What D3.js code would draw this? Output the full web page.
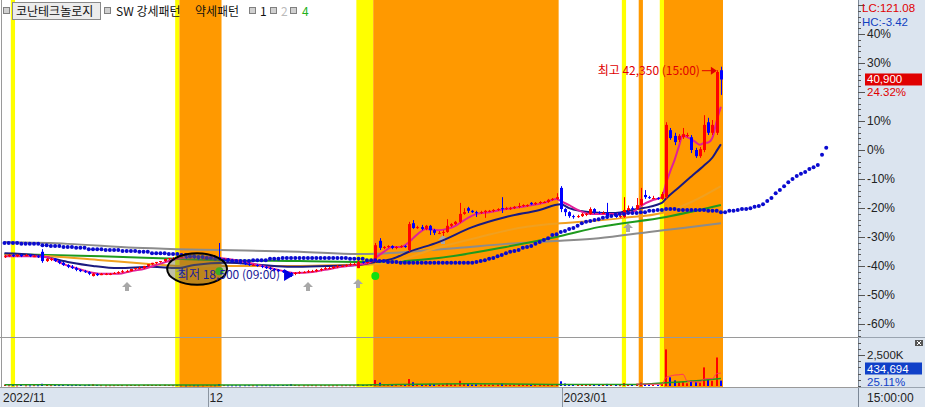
<!DOCTYPE html>
<html><head><meta charset="utf-8">
<script src="https://cdn.jsdelivr.net/npm/d3@7/dist/d3.min.js"></script>
<style>
body{margin:0;background:#fff;}
svg{display:block;font-family:"Noto Sans CJK KR","Noto Sans",sans-serif;font-size:12px;}
.num{font-family:"Liberation Sans",Arial,sans-serif;}
</style></head><body>
<svg id="c" width="925" height="407"></svg>
<script>
// ---------------- DATA ----------------
const basePrice = 32900; // 0% reference of the right axis
const openP = [20750,20850,21000,20850,21000,20850,21000,20850,20850,21350,20300,20550,20550,20300,20100,19850,19650,19500,19300,19150,19050,18600,18850,18700,18850,18850,18850,18950,19050,19150,19150,19400,19500,19500,19750,19950,20100,20200,20300,20550,20650,20650,20750,20750,20650,20750,20650,20550,20650,20650,20750,20650,20550,20550,20400,20300,20200,20100,19950,19850,19850,19750,19650,19500,19400,19300,19150,19050,18950,18850,18950,19050,19050,19150,19150,19300,19400,19500,19500,19650,19750,19750,19850,19950,19500,20200,20100,20200,20200,22600,21800,21900,22000,21800,21900,22000,21550,24600,24050,24150,23950,24300,23800,23500,23500,23600,24300,24500,24750,25650,26300,26000,25850,25750,25850,26000,26000,26100,26300,26200,26300,26300,26450,26550,26650,26900,26750,26900,27000,27000,27250,27350,28600,26200,25850,25400,25300,25400,25650,25650,26200,25850,25750,25750,25400,25550,25300,25300,26100,26300,26200,26650,27800,27550,27450,27450,27350,27550,35150,34500,34050,34350,34600,34350,32900,32200,32900,36050,34850,34850,41950];
const highP = [21000,21100,21100,21100,21100,21100,21100,21000,21000,21650,20650,20650,20650,20400,20200,19950,19850,19650,19400,19300,19150,18950,18950,18950,18950,18950,19050,19150,19300,19300,19400,19500,19650,19750,19950,20100,20200,20300,20550,20650,20750,20850,20850,20850,20850,20850,20750,20750,20750,20850,20850,22350,20650,20650,20550,20400,20300,20200,20100,19950,19950,19850,19750,19650,19500,19400,19300,19150,19050,19050,19150,19150,19300,19300,19400,19500,19650,19650,19750,19850,19850,19950,20100,20100,20400,20300,20300,20550,22350,22900,22000,22100,22100,22000,22100,22100,24750,24950,24300,24400,24400,24400,23950,23700,23800,25050,24600,24850,26900,26300,26450,26100,26000,26000,26100,26100,26200,26300,27550,26450,26450,26550,26900,26750,26750,27000,27000,27100,27100,27350,27450,28000,28800,26300,25950,25550,25550,25750,25750,26400,26300,25950,25950,26900,25650,25650,25500,27550,26600,26500,27450,28600,28350,27700,27700,27550,28150,36050,35400,34850,34700,35400,34850,34600,33150,33250,36850,36550,36300,41950,42350];
const lowP = [20650,20750,20750,20750,20750,20850,20750,20750,20650,20100,20200,20300,20200,19950,19750,19500,19400,19150,19050,18950,18700,18550,18600,18700,18700,18700,18850,18850,18950,19050,19150,19300,19400,19400,19650,19850,19950,20100,20200,20400,20550,20550,20650,20550,20550,20550,20400,20400,20550,20550,20550,20300,20400,20300,20200,20100,19950,19850,19750,19750,19650,19500,19400,19300,19150,19050,18950,18850,18500,18700,18850,18950,18950,19050,19050,19150,19300,19400,19400,19500,19650,19650,19750,19850,19500,20000,20000,20100,20100,21550,21650,21800,21650,21650,21800,21800,21350,23950,23950,23800,23800,23250,23250,23350,23150,23500,24150,24400,24600,25550,25750,25750,25300,25650,25200,25850,25850,26000,25750,26100,26100,26200,26300,26450,26450,26650,26650,26750,26900,26900,27150,27250,25850,25400,25200,25100,25200,25300,25400,25550,25650,25650,25650,25100,25300,25200,25200,25200,26000,26100,26100,26550,27350,27350,27350,27250,27250,27350,34050,33450,33800,34150,34350,32550,32000,32000,32650,34600,34600,34600,39150];
const closeP = [20850,21000,20850,21000,20850,21000,20850,20850,20750,20300,20550,20550,20300,20100,19850,19650,19500,19300,19150,19050,18850,18850,18700,18850,18850,18850,18950,19050,19150,19150,19400,19500,19500,19750,19950,20100,20200,20300,20550,20650,20650,20750,20750,20650,20750,20650,20550,20650,20650,20750,20650,20550,20550,20400,20300,20200,20100,19950,19850,19850,19750,19650,19500,19400,19300,19150,19050,18950,18850,18950,19050,19050,19150,19150,19300,19400,19500,19500,19650,19750,19750,19850,19950,19950,20200,20100,20200,20400,22100,21800,21900,22000,21800,21900,22000,21900,24500,24050,24150,23950,24300,23800,23500,23500,23600,24300,24500,24750,25650,25850,26000,25850,25750,25850,26000,26000,26100,26200,26200,26300,26300,26450,26550,26650,26650,26750,26900,27000,27000,27250,27350,27550,26200,25850,25400,25300,25400,25650,25650,26200,25850,25750,25750,25400,25550,25300,25400,26100,26300,26200,26650,27350,27550,27450,27450,27350,27900,35750,34250,33800,34500,34700,34600,32900,32200,33000,35750,34850,35750,41750,40900];
const volumeK = [90,60,70,50,80,60,55,70,65,180,90,70,80,75,85,90,70,95,80,75,110,140,90,70,60,65,70,80,75,70,85,80,70,90,95,85,80,90,100,85,70,75,60,55,70,65,60,55,80,60,65,160,75,60,55,60,50,65,70,60,55,65,70,60,70,75,80,85,150,90,70,60,65,70,60,65,70,60,55,65,60,70,65,60,150,90,80,120,480,260,150,110,120,100,90,110,560,300,170,150,130,180,160,110,120,230,150,140,420,200,160,120,140,110,130,100,110,120,200,110,100,90,140,110,90,100,110,100,90,120,110,160,380,200,140,110,90,100,90,160,110,90,80,170,90,80,70,230,150,120,180,280,150,100,90,80,150,2950,700,450,300,350,220,420,320,260,1500,520,420,2300,434.694];
// moving averages read at key bars: [bar index, price]
const ma5 = [[0,20850],[6,20850],[10,20750],[12,20400],[14,19950],[17,19500],[20,19050],[23,18850],[27,18850],[30,19150],[32,19300],[36,19850],[39,20300],[42,20650],[46,20750],[51,20650],[55,20400],[58,20100],[62,19650],[65,19300],[69,18950],[73,19050],[76,19300],[80,19650],[83,19850],[87,20200],[88,20650],[89,21000],[90,21350],[92,21900],[94,21900],[96,22450],[97,22900],[98,23350],[100,23950],[103,23800],[105,23950],[107,24300],[108,24600],[110,25200],[112,25650],[115,25850],[119,26200],[124,26550],[128,26900],[131,27350],[132,27100],[134,26650],[136,26100],[139,25650],[143,25650],[146,25650],[149,25850],[151,26550],[154,27250],[156,27550],[157,29150],[158,30500],[159,31750],[160,33250],[161,34600],[162,34350],[163,34100],[164,33800],[165,33500],[166,33700],[167,33750],[168,34300],[169,36200],[170,37800]];
const ma20 = [[0,21200],[7,21000],[15,20200],[21,19750],[27,19500],[35,19650],[41,19500],[45,19850],[53,20100],[61,19850],[68,19650],[77,19750],[84,19850],[88,20200],[92,20550],[96,21350],[103,22450],[111,24150],[119,25300],[127,26100],[132,26750],[134,26300],[139,25850],[145,25750],[149,26100],[156,26900],[157,27400],[160,28650],[163,29900],[166,31150],[168,32050],[169,32800],[170,33550]];
const ma60 = [[0,21000],[11,20850],[23,20400],[35,19950],[41,19750],[51,19750],[61,19750],[70,19750],[80,19850],[88,19950],[94,20400],[101,21550],[113,23050],[122,24050],[132,24600],[137,24750],[147,25200],[156,25750],[163,27000],[170,28800]];
const ma120 = [[0,21100],[23,20850],[41,20550],[51,20400],[70,20300],[88,20200],[103,20650],[119,21900],[132,23150],[141,24150],[157,25300],[170,26650]];
const ma240 = [[0,22450],[15,22250],[31,21800],[41,21650],[51,21550],[70,21350],[84,21100],[96,21350],[108,21800],[119,22250],[132,22600],[141,22900],[153,23600],[161,24050],[170,24600]];
// leading span (dotted), one value per bar, runs 25 bars past the last candle
const leadSpan = [22350,22350,22350,22350,22250,22250,22250,22250,22250,22100,22100,22000,22000,22000,21900,21900,21900,21800,21800,21800,21650,21650,21650,21650,21550,21550,21550,21550,21450,21450,21450,21450,21350,21350,21350,21200,21200,21200,21200,21100,21100,21100,21000,21000,20850,20850,20750,20750,20650,20650,20550,20550,20400,20400,20300,20300,20300,20300,20300,20400,20400,20400,20400,20550,20550,20550,20650,20650,20650,20650,20650,20650,20650,20650,20650,20650,20650,20650,20650,20650,20650,20650,20550,20550,20550,20550,20400,20400,20400,20300,20300,20200,20200,20200,20100,20100,20100,20100,20100,20100,20100,20100,20100,20100,20100,20100,20100,20100,20100,20100,20100,20100,20200,20300,20400,20550,20650,20850,21000,21200,21350,21450,21550,21800,21900,22000,22250,22450,22700,22900,23250,23350,23600,23700,23950,24050,24300,24600,24750,24850,24950,25050,25200,25300,25400,25550,25650,25650,25750,25750,25750,25850,25850,26000,26000,26100,26100,26200,26200,26200,26100,26100,26100,26100,26100,26100,26100,26000,26000,26000,25850,25850,26000,26000,26100,26200,26200,26300,26450,26550,26750,27100,27450,28000,28350,28800,29250,29600,29950,30200,30400,30750,30950,31200,32350,33150];
const volMa20 = [[0,95],[20,90],[40,85],[60,75],[84,80],[90,110],[110,180],[130,130],[150,130],[157,260],[165,450],[170,600]];
const volMa5 = [[150,150],[156,140],[157,700],[158,800],[159,880],[160,900],[161,950],[162,400],[163,350],[164,320],[165,310],[166,560],[167,600],[168,590],[169,990],[170,1040]];
// background pattern bands (bar index ranges)
const yellowBands = [[2,2],[41,41],[84,87],[147,147],[156,156]];
const orangeBands = [[42,51],[88,131],[151,151],[157,170]];
// signals
const grayUpSignals = [[29,17350],[42,19050],[72,17350],[84,17700],[104,22700],[148,24050]];
const greenSignals = [[88,18600],[51,19150]];
// axis labels
const pctTicks = [40,30,10,0,-10,-20,-30,-40,-50,-60];
const dateLabels = [[0,"2022/11"],[48,"12"],[132,"2023/01"]];
const lowMark = {idx:68, price:18500, text:"최저 18,500 (09:00)"};
const highMark = {idx:170, price:42350, text:"최고 42,350 (15:00)"};
const lastClose = 40900, lastVol = 434694;

// ---------------- SCALES ----------------
const svg = d3.select("#c");
const PX = 858, PB = 337, VB = 387;
const x = d3.scaleLinear().domain([0,200]).range([4.5, 4.5 + 4.214*200]);
const pct = d3.scaleLinear().domain([-64.483,51.724]).range([PB,0]);
const yP = p => pct((p/basePrice - 1)*100);
const yV = d3.scaleLinear().domain([0,2500]).range([386,355]);
const half = 2.107;

svg.append("rect").attr("x",0).attr("y",0).attr("width",925).attr("height",407).attr("fill","#fff");

// bands
const bandG = svg.append("g");
function band(b,col){ bandG.append("rect").attr("x",x(b[0])-half).attr("y",0)
  .attr("width",x(b[1])-x(b[0])+2*half).attr("height",VB).attr("fill",col); }
yellowBands.forEach(b=>band(b,"#ffff00"));
orangeBands.forEach(b=>band(b,"#ff9900"));

// clip for price panel
svg.append("clipPath").attr("id","cp").append("rect").attr("x",0).attr("y",0).attr("width",PX).attr("height",PB);
svg.append("clipPath").attr("id","cv").append("rect").attr("x",0).attr("y",PB+1).attr("width",PX).attr("height",VB-PB-1);
const gP = svg.append("g").attr("clip-path","url(#cp)");
const gV = svg.append("g").attr("clip-path","url(#cv)");

// gray up arrows
function upArrow(g,cx,cy,col){
  g.append("path").attr("d",`M${cx},${cy-5} L${cx+5},${cy} L${cx+2},${cy} L${cx+2},${cy+4} L${cx-2},${cy+4} L${cx-2},${cy} L${cx-5},${cy} Z`).attr("fill",col);
}
grayUpSignals.forEach(s=>upArrow(gP,Math.round(x(s[0])),Math.round(yP(s[1])),"#a8a8a8"));

// MA lines
const lineP = d3.line().x(d=>x(d[0])).y(d=>yP(d[1])).curve(d3.curveMonotoneX);
[[ma240,"#8c8c8c"],[ma120,"#1e9a1e"],[ma60,"#f0a020"],[ma20,"#1a1a80"],[ma5,"#e0209a"]].forEach(([d,c])=>{
  gP.append("path").attr("d",lineP(d)).attr("fill","none").attr("stroke",c).attr("stroke-width",2);
});

// candles
closeP.forEach((c,i)=>{
  const o=openP[i], up = c>=o, col = up?"#ff0000":"#0000ff";
  const cx = Math.round(x(i))+0.5;
  gP.append("line").attr("x1",cx).attr("x2",cx).attr("y1",yP(highP[i])).attr("y2",yP(lowP[i])).attr("stroke",col).attr("stroke-width",1);
  const t = Math.min(yP(o),yP(c)), h = Math.max(1,Math.abs(yP(o)-yP(c)));
  gP.append("rect").attr("x",cx-1.5).attr("y",t).attr("width",3).attr("height",h).attr("fill",col);
});

// leading span dots
leadSpan.forEach((v,i)=>{
  gP.append("circle").attr("cx",x(i)).attr("cy",yP(v)).attr("r",2).attr("fill","#0a0ad0");
});

// green signals
greenSignals.forEach(s=>gP.append("circle").attr("cx",x(s[0])).attr("cy",yP(s[1])).attr("r",4).attr("fill","#10e010"));

// ellipse annotation
const ecx = x(45.7), ecy = yP(19400);
gP.append("ellipse").attr("cx",ecx).attr("cy",ecy).attr("rx",x(52.8)-x(45.7)).attr("ry",yP(17600)-yP(19400))
  .attr("fill","rgba(110,110,60,0.45)").attr("stroke","#000").attr("stroke-width",2);

// low marker
const lx = x(lowMark.idx)+3, ly = yP(lowMark.price)-2;
gP.append("path").attr("d",`M${lx},${ly} L${lx-10},${ly-6} L${lx-10},${ly+6} Z`).attr("fill","#0000e0");
gP.append("text").attr("x",lx-14).attr("y",ly+4).attr("text-anchor","end").attr("fill","#1a1a9a").text(lowMark.text);

// high marker
const hx = x(highMark.idx)-4, hy = yP(highMark.price)+4;
gP.append("line").attr("x1",hx-15).attr("x2",hx-4).attr("y1",hy).attr("y2",hy).attr("stroke","#e00000").attr("stroke-width",1);
gP.append("path").attr("d",`M${hx},${hy} L${hx-6},${hy-4} L${hx-6},${hy+4} Z`).attr("fill","#e00000");
gP.append("text").attr("x",hx-17).attr("y",hy+4).attr("text-anchor","end").attr("fill","#e00000").text(highMark.text);

// volume
volumeK.forEach((v,i)=>{
  const up = closeP[i]>=openP[i];
  const cx = Math.round(x(i));
  gV.append("rect").attr("x",cx-1).attr("y",yV(v)).attr("width",2).attr("height",Math.max(1,yV(0)-yV(v))).attr("fill",up?"#ff0000":"#0000ff");
});
const lineV = d3.line().x(d=>x(d[0])).y(d=>yV(d[1])).curve(d3.curveMonotoneX);
gV.append("path").attr("d",lineV(volMa20)).attr("fill","none").attr("stroke","#1e9a1e").attr("stroke-width",1.5);
gV.append("path").attr("d",lineV(volMa5)).attr("fill","none").attr("stroke","#ff3060").attr("stroke-width",1);

// frame lines
svg.append("line").attr("x1",0).attr("x2",PX).attr("y1",PB+0.5).attr("y2",PB+0.5).attr("stroke","#9a9a9a");
svg.append("line").attr("x1",0).attr("x2",PX).attr("y1",VB+0.5).attr("y2",VB+0.5).attr("stroke","#9a9a9a");
svg.append("line").attr("x1",1.5).attr("x2",1.5).attr("y1",0).attr("y2",VB).attr("stroke","#9a9a9a");

// right axis panel
svg.append("rect").attr("x",PX).attr("y",0).attr("width",925-PX).attr("height",407).attr("fill","#dbe4ef");
svg.append("rect").attr("x",0).attr("y",VB+1).attr("width",PX).attr("height",407-VB-1).attr("fill","#dbe4ef");
svg.append("line").attr("x1",PX+0.5).attr("x2",PX+0.5).attr("y1",0).attr("y2",407).attr("stroke","#7b8796");
svg.append("line").attr("x1",PX).attr("x2",925).attr("y1",PB+0.5).attr("y2",PB+0.5).attr("stroke","#9aa4b0");
svg.append("line").attr("x1",PX).attr("x2",925).attr("y1",VB+0.5).attr("y2",VB+0.5).attr("stroke","#9aa4b0");

const ax = svg.append("g").attr("class","num");
d3.range(-64,52,2).forEach(p=>{
  const yy = Math.round(pct(p))+0.5;
  const major = p%10===0;
  ax.append("line").attr("x1",PX).attr("x2",PX+(major?7:3)).attr("y1",yy).attr("y2",yy).attr("stroke","#555");
});
pctTicks.forEach(p=>{
  ax.append("text").attr("x",PX+9).attr("y",pct(p)+4.5).attr("fill","#222").text(p+"%");
});
// volume ticks
d3.range(0,4001,500).forEach(v=>{
  const yy=Math.round(yV(v))+0.5; if(yy<PB+2) return;
  ax.append("line").attr("x1",PX).attr("x2",PX+(v===2500?7:3)).attr("y1",yy).attr("y2",yy).attr("stroke","#555");
});
ax.append("text").attr("x",PX+9).attr("y",yV(2500)+4).attr("font-size",11.5).attr("fill","#222").text("2,500K");

// LC / HC
const lowMin = d3.min(lowP), highMax = d3.max(highP);
ax.append("text").attr("x",PX+4).attr("y",12).attr("font-size",11.5).attr("fill","#e00000").text("LC:"+((lastClose/lowMin-1)*100).toFixed(2));
ax.append("text").attr("x",PX+4).attr("y",25.5).attr("font-size",11.5).attr("fill","#1040c0").text("HC:"+((lastClose/highMax-1)*100).toFixed(2));
// last price box
const lpY = yP(lastClose);
ax.append("rect").attr("x",PX+7).attr("y",lpY-6).attr("width",57).attr("height",12).attr("fill","#e00000");
ax.append("text").attr("x",PX+9).attr("y",lpY+4).attr("font-size",11.5).attr("fill","#fff").text(d3.format(",")(lastClose));
ax.append("text").attr("x",PX+9).attr("y",lpY+16.5).attr("font-size",11.5).attr("fill","#e00000").text(((lastClose/basePrice-1)*100).toFixed(2)+"%");
// last volume box
ax.append("rect").attr("x",PX+7).attr("y",362.5).attr("width",57).attr("height",12).attr("fill","#1040c8");
ax.append("text").attr("x",PX+9).attr("y",372.5).attr("font-size",11.5).attr("fill","#fff").text(d3.format(",")(lastVol));
ax.append("text").attr("x",PX+9).attr("y",385.5).attr("font-size",11.5).attr("fill","#1040c8").text("25.11%");
// small close box
ax.append("rect").attr("x",915).attr("y",340).attr("width",8).attr("height",6).attr("fill","#555");
ax.append("path").attr("d","M917,341 L921,345 M921,341 L917,345").attr("stroke","#fff").attr("stroke-width",1);

// bottom date axis
const dg = svg.append("g").attr("class","num");
dateLabels.forEach(([i,t],k)=>{
  const xx = k===0?3:Math.round(x(i))+1.5;
  if(k>0) dg.append("line").attr("x1",xx).attr("x2",xx).attr("y1",VB+1).attr("y2",407).attr("stroke","#8a94a0");
  dg.append("text").attr("x",xx+(k===0?0:1)).attr("y",402).attr("fill","#222").text(t);
});
dg.append("text").attr("x",PX+9).attr("y",402).attr("fill","#222").text("15:00:00");

// legend
const lg = svg.append("g");
function sq(xx){ lg.append("rect").attr("x",xx+0.5).attr("y",7.5).attr("width",6).attr("height",6).attr("fill","#d0d0d0").attr("stroke","#808080"); }
sq(3);
lg.append("rect").attr("x",12.5).attr("y",2.5).attr("width",88).attr("height",17).attr("fill","#ececec").attr("stroke","#8a8a8a");
lg.append("text").attr("x",16).attr("y",15.5).attr("fill","#111").text("코난테크놀로지");
sq(104);
lg.append("text").attr("x",116).attr("y",15.5).attr("fill","#111").text("SW 강세패턴");
lg.append("text").attr("x",195).attr("y",15.5).attr("fill","#111").text("약세패턴");
sq(249);
lg.append("text").attr("x",260).attr("y",15.5).attr("fill","#111").text("1");
sq(270);
lg.append("text").attr("x",281).attr("y",15.5).attr("fill","#bbbbbb").text("2");
sq(290);
lg.append("text").attr("x",302).attr("y",15.5).attr("fill","#20b020").text("4");
</script>
</body></html>
